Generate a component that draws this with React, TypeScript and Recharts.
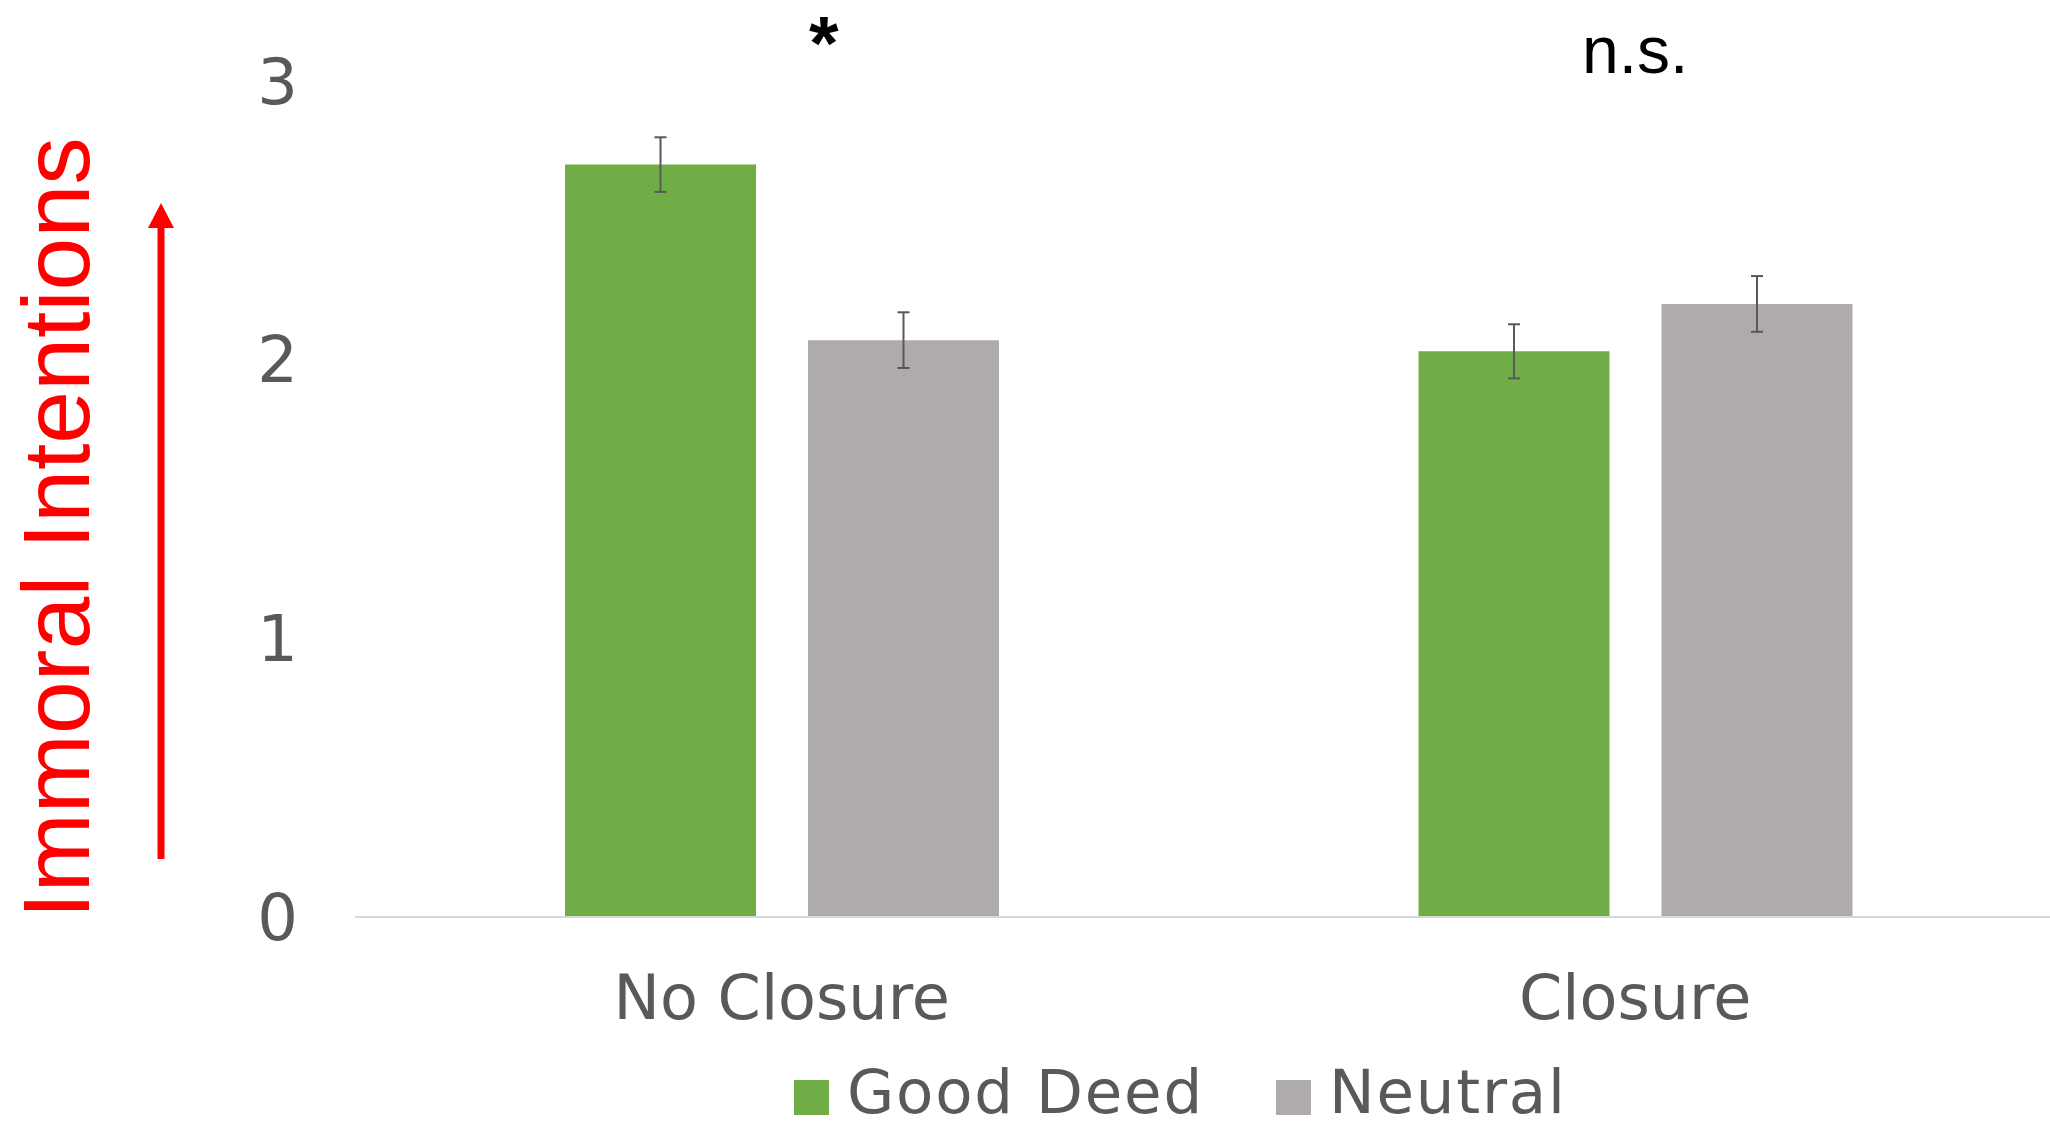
import React from "react";
import {
  BarChart,
  Bar,
  XAxis,
  YAxis,
  ErrorBar,
  Legend,
  ReferenceDot,
} from "recharts";

const categories = ["No Closure", "Closure"];
const goodDeed = [2.7, 2.03];
const goodDeedErr = [0.098, 0.097];
const neutral = [2.07, 2.2];
const neutralErr = [0.1, 0.1];
const yTicks = [0, 1, 2, 3];
const significance = ["*", "n.s."];

const GREEN = "#70AD47";
const GRAY = "#AFABAB";
const TEXT = "#595959";
const FONT = "'DejaVu Sans', sans-serif";

const data = categories.map((name, i) => ({
  name,
  goodDeed: goodDeed[i],
  goodDeedErr: goodDeedErr[i],
  neutral: neutral[i],
  neutralErr: neutralErr[i],
}));

// small nudges so the marks sit where the original ones do
const annotationStyle: Record<string, { dx: number; dy: number; size: number; weight: string }> = {
  "*": { dx: 42, dy: -12, size: 76, weight: "bold" },
  "n.s.": { dx: 0, dy: -8, size: 66, weight: "normal" },
};

const AxisTitle = () => (
  <g>
    <text
      x={89}
      y={528}
      transform="rotate(-90 89 528)"
      textAnchor="middle"
      fill="#FF0000"
      fontSize={95}
      fontFamily="'Liberation Sans', Arial, sans-serif"
    >
      Immoral Intentions
    </text>
    {/* arrow pointing up */}
    <line x1={161} y1={859} x2={161} y2={222} stroke="#FF0000" strokeWidth={7} />
    <polygon points="148,228 174,228 161,203" fill="#FF0000" />
  </g>
);

const renderLegend = (props: any) => {
  const { payload = [] } = props;
  return (
    <div style={{ height: 70, position: "relative" }}>
      <div
        style={{
          position: "absolute",
          left: 794,
          top: 2,
          height: 68,
          display: "flex",
          alignItems: "center",
        }}
      >
        {payload.map((entry: any, i: number) => (
          <div
            key={`legend-${i}`}
            style={{ display: "flex", alignItems: "center", marginRight: 72 }}
          >
            <div
              style={{
                width: 35,
                height: 35,
                background: entry.color,
                marginRight: 18,
                marginTop: 10,
              }}
            />
            <span
              style={{
                fontFamily: FONT,
                fontSize: 61,
                color: TEXT,
                lineHeight: "68px",
                letterSpacing: 1.8,
              }}
            >
              {entry.value}
            </span>
          </div>
        ))}
      </div>
    </div>
  );
};

export default function App() {
  return (
    <div
      style={{
        position: "absolute",
        left: 0,
        top: 0,
        width: 2050,
        height: 1126,
        overflow: "hidden",
        background: "#fff",
      }}
    >
      <BarChart
        width={2062}
        height={1126}
        data={data}
        margin={{ top: 81, right: 0, bottom: 0, left: 0 }}
        barSize={191}
        barGap={52}
      >
        <XAxis
          dataKey="name"
          height={139}
          axisLine={{ stroke: "#D9D9D9", strokeWidth: 2 }}
          tickLine={false}
          tickSize={0}
          tickMargin={58}
          tick={{ fontSize: 62, fill: TEXT, fontFamily: FONT }}
        />
        <YAxis
          width={355}
          domain={[0, 3]}
          ticks={yTicks}
          axisLine={false}
          tickLine={false}
          tickSize={0}
          tickMargin={57}
          tick={{ fontSize: 64, fill: TEXT, fontFamily: FONT }}
          label={{ content: <AxisTitle /> }}
        />
        <Legend verticalAlign="bottom" content={renderLegend} />
        <Bar dataKey="goodDeed" name="Good Deed" fill={GREEN} isAnimationActive={false}>
          <ErrorBar dataKey="goodDeedErr" width={6} stroke={TEXT} strokeWidth={2} />
        </Bar>
        <Bar dataKey="neutral" name="Neutral" fill={GRAY} isAnimationActive={false}>
          <ErrorBar dataKey="neutralErr" width={6} stroke={TEXT} strokeWidth={2} />
        </Bar>
        {categories.map((c, i) => (
          <ReferenceDot
            key={`sig-${i}`}
            x={c}
            y={3}
            r={1}
            ifOverflow="visible"
            shape={(p: any) => {
              const s = annotationStyle[significance[i]];
              return (
                <text
                  x={p.cx + s.dx}
                  y={p.cy + s.dy}
                  textAnchor="middle"
                  fontSize={s.size}
                  fontWeight={s.weight}
                  fill="#000"
                  fontFamily="'Liberation Sans', Arial, sans-serif"
                >
                  {significance[i]}
                </text>
              );
            }}
          />
        ))}
      </BarChart>
    </div>
  );
}
